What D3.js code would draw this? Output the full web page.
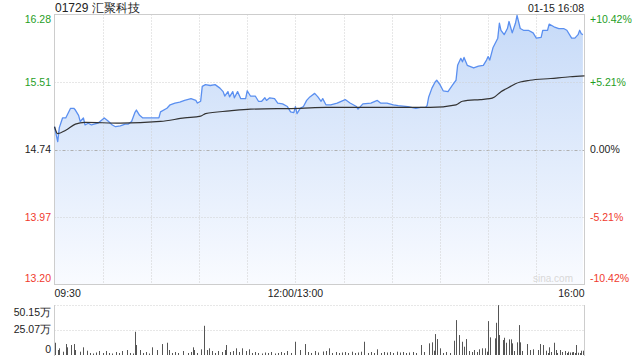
<!DOCTYPE html>
<html>
<head>
<meta charset="utf-8">
<script src="https://cdn.jsdelivr.net/npm/d3@7"></script>
<style>
  body { margin: 0; background: #fff; }
  svg { display: block; font-family: "Liberation Sans", Arial, sans-serif; }
</style>
</head>
<body>
<script>
'use strict';

// minutes since 09:30 (lunch break removed, 330 = 16:00)
const priceMins = [0,2,3,5,7,10,12,13,15,16,18,19,21,23,27,31,33,36,38,41,44,46,48,50,51,53,55,60,65,66,
  70,72,75,78,81,85,88,89,91,92,94,97,100,103,105,106,108,109,111,112,114,116,119,120,122,125,127,129,131,132,
  134,137,139,142,145,147,149,150,151,153,155,157,159,162,164,166,167,169,172,176,181,184,188,189,192,197,201,203,207,211,
  214,220,225,228,231,232,233,235,237,238,240,242,245,248,250,251,253,254,255,257,261,264,267,269,270,271,273,276,277,278,
  280,282,283,285,287,288,290,292,295,298,300,303,304,307,308,311,314,317,319,322,324,326,327,328,329];
const prices = [15.00,14.83,14.99,15.10,15.10,15.21,15.21,15.19,15.13,15.06,15.10,15.02,15.04,15.02,15.04,15.10,15.07,15.02,15.00,15.01,
  15.03,15.03,15.06,15.16,15.19,15.13,15.10,15.10,15.10,15.17,15.21,15.25,15.27,15.28,15.30,15.32,15.30,15.27,15.29,15.46,
  15.48,15.47,15.48,15.44,15.40,15.35,15.40,15.34,15.40,15.33,15.40,15.32,15.32,15.41,15.35,15.35,15.29,15.29,15.33,15.30,
  15.33,15.32,15.27,15.26,15.23,15.17,15.16,15.23,15.15,15.21,15.23,15.30,15.34,15.38,15.34,15.29,15.32,15.25,15.25,15.27,
  15.31,15.27,15.23,15.20,15.26,15.27,15.30,15.27,15.27,15.25,15.24,15.23,15.21,15.22,15.22,15.24,15.34,15.44,15.51,15.53,
  15.48,15.41,15.40,15.48,15.53,15.70,15.78,15.74,15.79,15.70,15.67,15.69,15.70,15.76,15.80,15.76,15.90,16.01,16.18,16.10,
  16.05,16.12,16.20,16.07,16.18,16.27,16.12,16.10,16.10,16.07,16.01,16.02,16.10,16.10,16.17,16.14,16.12,16.12,16.10,16.01,
  16.01,16.05,16.10,16.06,16.05];

// average price line
const avgMins = [0,2,7,13,19,41,66,81,91,94,109,122,153,169,234,250,254,265,271,274,278,281,284,287,290,296,309,321,330];
const avgPrices = [15.00,14.92,14.96,15.03,15.05,15.04,15.06,15.10,15.12,15.15,15.18,15.20,15.21,15.22,15.22,15.25,15.29,15.31,
  15.32,15.34,15.40,15.43,15.46,15.49,15.51,15.53,15.55,15.57,15.58];

// volume in 万 shares
const volMins = [0,2,3,5,7,8,10,12,13,16,18,20,22,24,26,28,30,32,34,36,38,40,42,45,47,49,50,51,53,55,
  57,59,61,64,67,70,71,73,75,77,80,83,85,86,87,89,91,93,95,96,98,100,102,104,106,107,109,111,113,115,
  117,119,121,123,125,127,129,131,133,135,137,139,141,143,145,147,150,153,156,158,160,162,164,167,169,171,173,175,177,179,
  181,183,185,187,189,191,193,195,197,199,201,203,205,207,209,211,213,215,217,219,221,223,225,228,230,233,235,236,237,238,
  240,242,244,246,249,250,252,254,255,256,258,260,261,263,264,266,268,269,270,271,274,275,276,277,279,280,281,283,284,285,
  286,288,289,290,291,294,296,298,301,302,304,306,307,308,309,311,312,313,315,316,318,319,320,321,322,323,324,325,326,327,
  328,329];
const volumes = [12.3,5,6.7,3.3,11,7.7,10,11,5,3.3,7.7,4.3,2,1.5,2.5,4,2,4,2,1.5,3,2,4,5,2,1.5,23.3,10,5,2,
  3,1.5,7.7,5,11,12.3,5,2,3,2,4,2,3,7.7,5,2,5.7,29.3,5,6.7,4,2,4,3,5,10,3,4,6.7,3,
  6.7,4,5.7,2,3,2,1.5,2.5,2,3,1.5,2,3,2,4,2,13.3,5,11,3,2,4,2.5,3.5,4,6.7,2,3,2,2.5,
  3,2,3.3,2,2.5,3.3,13.3,2,3,2,5.7,2,3,2.5,3,2,3.3,2.5,3,2,2.5,3,2,10,3,11.7,12.7,4.3,21,16,
  6.7,2,3,2,14.3,35,20,13.3,8.3,16,4,3,5,3,5.7,6.7,6.7,3.3,34,17.7,16.7,32.3,50,20,15,17.3,12.3,15.7,15.7,11.7,
  4,12.7,30,12.7,4,11,5,5.7,5,11,10,4.3,2,7.7,3,12.3,5,2,5,3,4,2,3.3,2.5,2.7,3,2,10,2.3,2,
  4.3,4.3];

const priceTicks = [16.28, 15.51, 14.74, 13.97, 13.20];
const pctTicks = ['+10.42%', '+5.21%', '0.00%', '-5.21%', '-10.42%'];
const volTicks = [50.15, 25.07, 0];
const volTickLabels = ['50.15万', '25.07万', '0'];
const timeTicks = [0, 150, 330];
const timeLabels = ['09:30', '12:00/13:00', '16:00'];
const prevClose = 14.74;

(function() {

  const GREEN = '#1f9e1f';
  const RED = '#f03a2e';

  window.onload = function() {
    let svg = d3.select('body')
      .append('svg')
      .attr('width', 640)
      .attr('height', 360);

    // scales
    let xScale = d3.scaleLinear().domain([0, 330]).range([54.5, 584.5]);
    let yScale = d3.scaleLinear().domain([13.20, 16.28]).range([284.5, 14.5]);
    let vScale = d3.scaleLinear().domain([0, 50.15]).range([355, 305]);

    // gradient for the area under price
    let defs = svg.append('defs');
    let grad = defs.append('linearGradient')
      .attr('id', 'fillGrad')
      .attr('gradientUnits', 'userSpaceOnUse')
      .attr('x1', 0).attr('y1', 14.5).attr('x2', 0).attr('y2', 284.5);
    grad.append('stop').attr('offset', '0%').attr('stop-color', '#c6daf8');
    grad.append('stop').attr('offset', '100%').attr('stop-color', '#f9fbff');

    // area fill
    let pts = priceMins.map((m, i) => [m, prices[i]]);
    let area = d3.area()
      .x((d) => xScale(d[0]))
      .y0(yScale(13.20))
      .y1((d) => yScale(d[1]));
    svg.append('path')
      .datum(pts)
      .attr('d', area)
      .attr('fill', 'url(#fillGrad)');

    // horizontal grid (inner ticks only)
    svg.selectAll('.hgrid')
      .data(priceTicks.slice(1, 4))
      .enter()
      .append('line')
      .attr('x1', xScale(0)).attr('x2', xScale(330))
      .attr('y1', (d) => Math.round(yScale(d)) + 0.5)
      .attr('y2', (d) => Math.round(yScale(d)) + 0.5)
      .attr('stroke', (d) => d === prevClose ? '#b0b0b0' : '#cfcfcf')
      .attr('stroke-dasharray', (d) => d === prevClose ? '3,2,1,2' : '1,2');

    // vertical grid every 30 minutes
    let vTicks = d3.range(30, 330, 30);
    svg.selectAll('.vgrid')
      .data(vTicks)
      .enter()
      .append('line')
      .attr('x1', (d) => Math.round(xScale(d)) + 0.5)
      .attr('x2', (d) => Math.round(xScale(d)) + 0.5)
      .attr('y1', 14.5).attr('y2', 284.5)
      .attr('stroke', '#cfcfcf')
      .attr('stroke-dasharray', '1,2');

    // frame of price panel
    svg.append('rect')
      .attr('x', 54.5).attr('y', 14.5)
      .attr('width', 530).attr('height', 270)
      .attr('fill', 'none')
      .attr('stroke', '#cdcdcd');

    // watermark
    svg.append('text')
      .attr('x', 573).attr('y', 282)
      .attr('text-anchor', 'end')
      .style('font-size', '10px')
      .attr('fill', '#d8d8d8')
      .text('sina.com');

    // price line
    let line = d3.line()
      .x((d) => xScale(d[0]))
      .y((d) => yScale(d[1]));
    svg.append('path')
      .datum(pts)
      .attr('d', line)
      .attr('fill', 'none')
      .attr('stroke', '#5a8ff0')
      .attr('stroke-width', 1.3)
      .attr('stroke-linejoin', 'round');

    // average line
    let avgPts = avgMins.map((m, i) => [m, avgPrices[i]]);
    svg.append('path')
      .datum(avgPts)
      .attr('d', d3.line().curve(d3.curveMonotoneX).x((d) => xScale(d[0])).y((d) => yScale(d[1])))
      .attr('fill', 'none')
      .attr('stroke', '#333')
      .attr('stroke-width', 1.2);

    // left price labels
    let labelY = [19.5, 82.5, 149.5, 217.5, 278.5];
    svg.selectAll('.plabel')
      .data(priceTicks)
      .enter()
      .append('text')
      .attr('x', 51)
      .attr('y', (d, i) => labelY[i])
      .attr('dy', '0.35em')
      .attr('text-anchor', 'end')
      .style('font-size', '10.5px')
      .attr('fill', (d) => d > prevClose ? GREEN : (d < prevClose ? RED : '#222'))
      .text((d) => d.toFixed(2));

    // right percent labels
    svg.selectAll('.rlabel')
      .data(pctTicks)
      .enter()
      .append('text')
      .attr('x', 590)
      .attr('y', (d, i) => labelY[i])
      .attr('dy', '0.35em')
      .style('font-size', '10.5px')
      .attr('fill', (d) => d[0] === '+' ? GREEN : (d[0] === '-' ? RED : '#222'))
      .text((d) => d);

    // time labels
    svg.selectAll('.tlabel')
      .data(timeTicks)
      .enter()
      .append('text')
      .attr('x', (d) => xScale(d))
      .attr('y', 297)
      .attr('text-anchor', (d, i) => i === 0 ? 'start' : (i === 1 ? 'middle' : 'end'))
      .style('font-size', '10.5px')
      .attr('fill', '#222')
      .text((d, i) => timeLabels[i]);

    // title + timestamp
    svg.append('text')
      .attr('x', 55).attr('y', 11.5)
      .style('font-size', '12px')
      .attr('fill', '#222')
      .text('01729 汇聚科技');

    svg.append('text')
      .attr('x', 584).attr('y', 11.5)
      .attr('text-anchor', 'end')
      .style('font-size', '10.5px')
      .attr('fill', '#222')
      .text('01-15 16:08');

    // volume panel grid
    svg.selectAll('.vol-grid')
      .data(volTicks.slice(0, 2))
      .enter()
      .append('line')
      .attr('x1', 54.5).attr('x2', 584.5)
      .attr('y1', (d) => Math.round(vScale(d)) + 0.5)
      .attr('y2', (d) => Math.round(vScale(d)) + 0.5)
      .attr('stroke', '#cfcfcf')
      .attr('stroke-dasharray', '1,2');

    svg.append('line')
      .attr('x1', 54.5).attr('x2', 54.5)
      .attr('y1', 305).attr('y2', 356)
      .attr('stroke', '#cdcdcd');
    svg.append('line')
      .attr('x1', 584.5).attr('x2', 584.5)
      .attr('y1', 305).attr('y2', 356)
      .attr('stroke', '#cdcdcd');

    // volume bars
    svg.selectAll('.vbar')
      .data(volMins)
      .enter()
      .append('line')
      .attr('x1', (d) => Math.round(xScale(d)) + 0.5)
      .attr('x2', (d) => Math.round(xScale(d)) + 0.5)
      .attr('y1', vScale(0))
      .attr('y2', (d, i) => vScale(volumes[i]))
      .attr('stroke', '#555')
      .attr('stroke-width', 1);

    // volume labels
    let volLabelY = [312, 329, 349];
    svg.selectAll('.vlabel')
      .data(volTickLabels)
      .enter()
      .append('text')
      .attr('x', 51)
      .attr('y', (d, i) => volLabelY[i])
      .attr('dy', '0.35em')
      .attr('text-anchor', 'end')
      .style('font-size', '10.5px')
      .attr('fill', '#222')
      .text((d) => d);
  }

})();
</script>
</body>
</html>
